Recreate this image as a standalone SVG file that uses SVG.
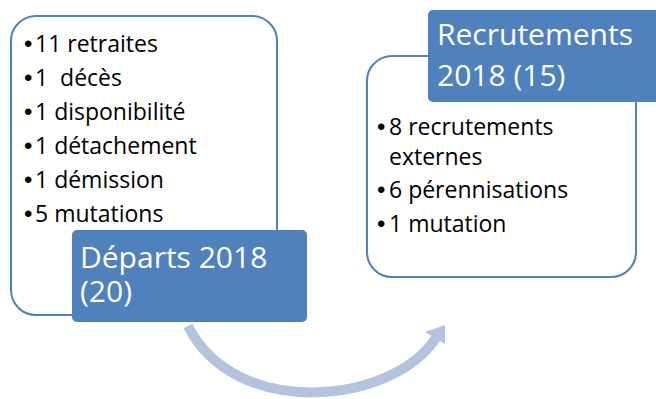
<svg xmlns="http://www.w3.org/2000/svg" width="656" height="399" viewBox="0 0 656 399">
  <style>
    .box { fill: #ffffff; stroke: #4F81BD; stroke-width: 2; }
    .head { fill: #4F81BD; }
    .item { font-family: "Open Sans", "Liberation Sans", sans-serif; font-size: 23px; fill: #000000; }
    .bul { font-family: "Liberation Sans", sans-serif; font-size: 24px; fill: #000000; }
    .title { font-family: "Open Sans", "Liberation Sans", sans-serif; font-size: 30px; fill: #ffffff; }
    .arc { fill: none; stroke: #B3C3DE; stroke-width: 10; }
    .arrowhead { fill: #B3C3DE; }
  </style>
  <rect width="656" height="399" fill="#ffffff"/>
  <g id="connectors">
    <path class="arc" d="M 188 326 C 235 420, 392 405, 436 338"/>
    <polygon class="arrowhead" points="445,325 425,332 445,344"/>
  </g>
  <g id="departs">
    <rect class="box" x="11" y="16" width="266" height="299" rx="25" ry="25"/>
    <g class="bul">
      <text x="24" y="52">•</text>
      <text x="24" y="86">•</text>
      <text x="24" y="120">•</text>
      <text x="24" y="154">•</text>
      <text x="24" y="188">•</text>
      <text x="24" y="222">•</text>
    </g>
    <g class="item">
      <text x="35" y="52">11 retraites</text>
      <text x="35" y="86" xml:space="preserve">1  décès</text>
      <text x="35" y="120">1 disponibilité</text>
      <text x="35" y="154">1 détachement</text>
      <text x="35" y="188">1 démission</text>
      <text x="35" y="222">5 mutations</text>
    </g>
    <rect class="head" x="72" y="230" width="235" height="92" rx="5" ry="5"/>
    <text class="title" x="80" y="268">Départs 2018</text>
    <text class="title" x="80" y="302">(20)</text>
  </g>
  <g id="recrutements">
    <rect class="box" x="367" y="56" width="269" height="221" rx="25" ry="25"/>
    <g class="bul">
      <text x="377" y="135">•</text>
      <text x="377" y="198">•</text>
      <text x="377" y="232">•</text>
    </g>
    <g class="item">
      <text x="389" y="135">8 recrutements</text>
      <text x="389" y="165">externes</text>
      <text x="389" y="198">6 pérennisations</text>
      <text x="389" y="232">1 mutation</text>
    </g>
    <rect class="head" x="428" y="10" width="240" height="92" rx="5" ry="5"/>
    <text class="title" x="437" y="45">Recrutements</text>
    <text class="title" x="437" y="86">2018 (15)</text>
  </g>
</svg>
